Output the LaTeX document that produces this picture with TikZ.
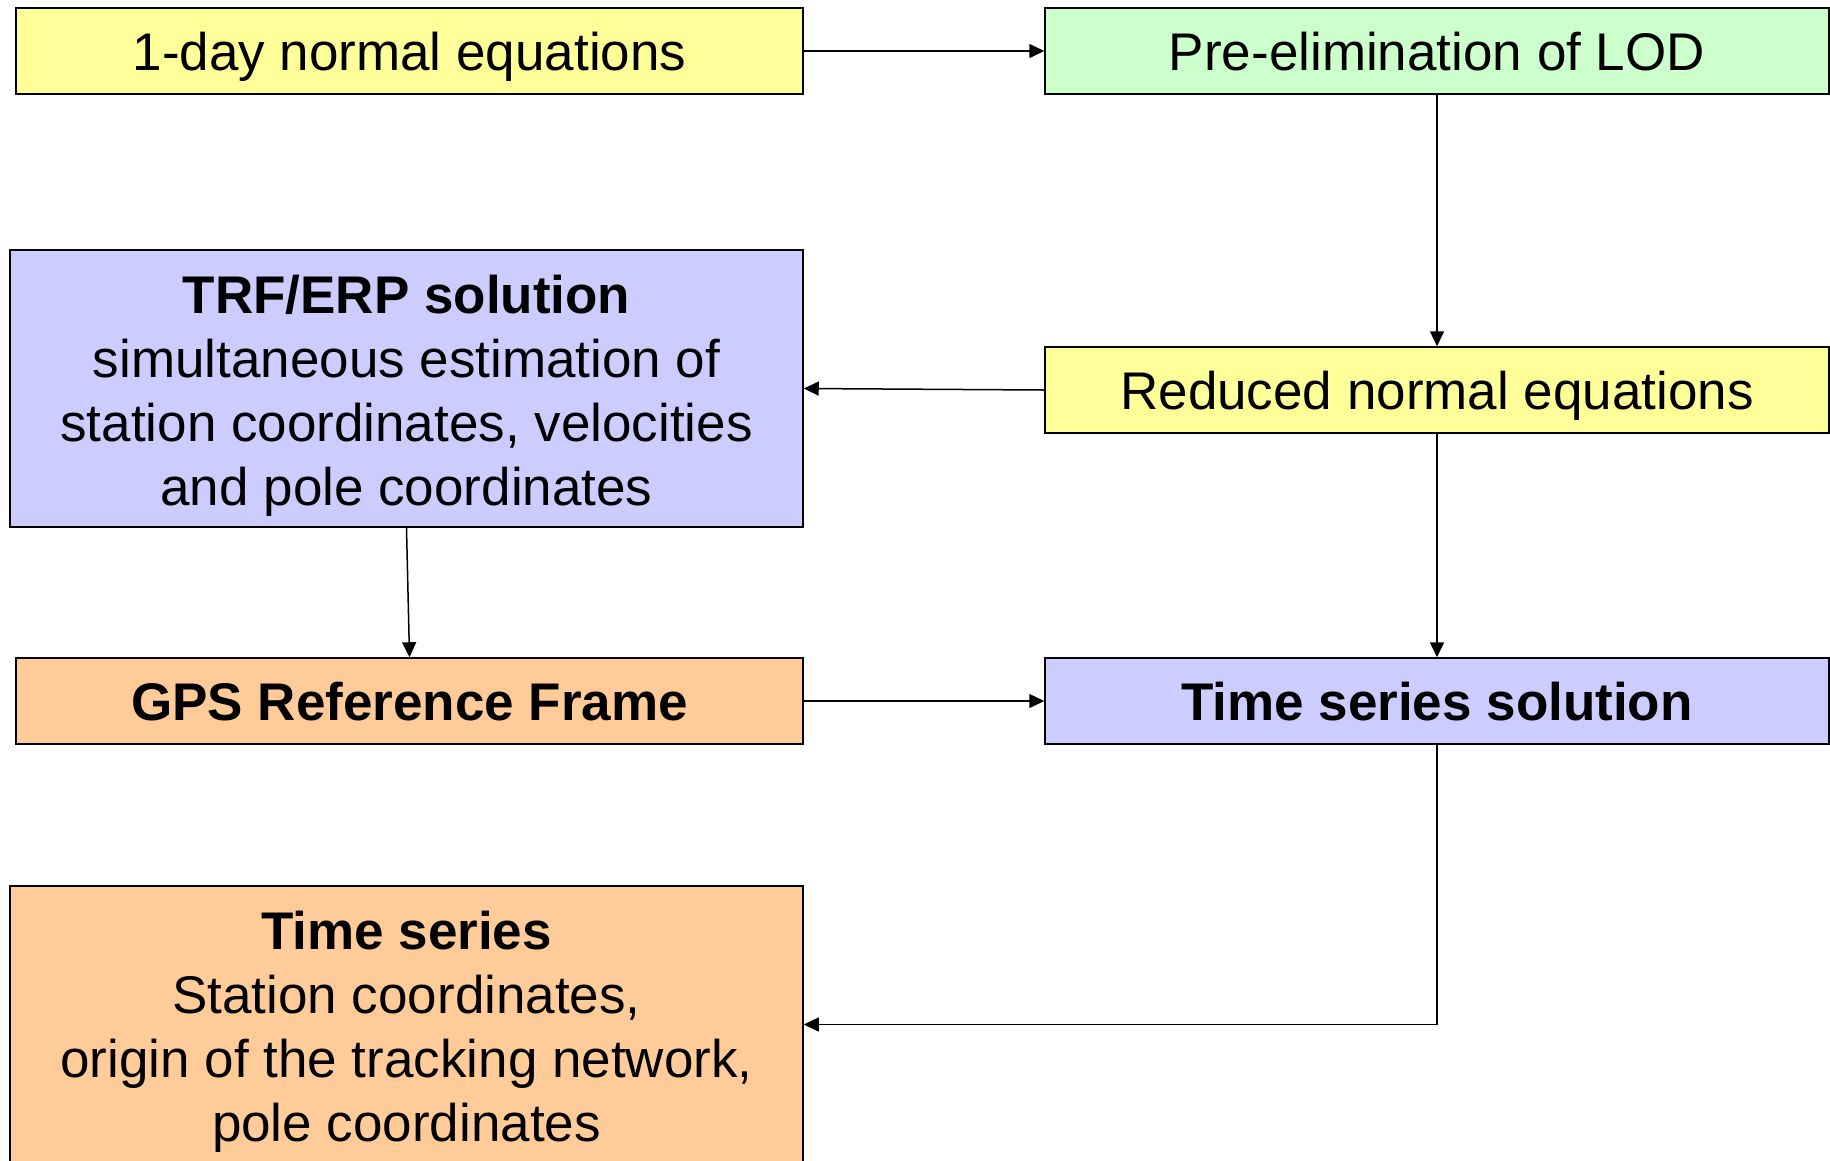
\documentclass[tikz,border=0pt]{standalone}
\usepackage{fontspec}
\setmainfont{Liberation Sans}
\usetikzlibrary{arrows.meta}
\definecolor{cyellow}{HTML}{FFFF99}
\definecolor{cgreen}{HTML}{CCFFCC}
\definecolor{cblue}{HTML}{CCCCFF}
\definecolor{corange}{HTML}{FFCC99}
\newcommand{\toppad}{\rule{0pt}{52pt}}
\tikzset{
  box/.style={draw=black, line width=1.5pt, rectangle, inner sep=0pt, align=center,
    font=\fontsize{53}{64}\selectfont, text=black},
  oneline/.style={text height=38pt, text depth=0pt},
  small/.style={box, oneline, minimum width=787pt, minimum height=86pt},
  big/.style={box, minimum width=793pt, minimum height=277pt},
  rsmall/.style={box, oneline, minimum width=784pt, minimum height=86pt},
  arr/.style={draw=black, line width=1.5pt, -{Triangle[length=15pt,width=14pt]}}
}
\begin{document}
\begin{tikzpicture}[x=1pt,y=-1pt]
\useasboundingbox (0,0) rectangle (1830,1160);
\clip (0,0) rectangle (1830,1160);
\node[small, fill=cyellow] (A) at (409.5,51) {1-day normal equations};
\node[rsmall, fill=cgreen] (B) at (1437,51) {Pre-elimination of LOD};
\node[big, fill=cblue] (C) at (406.5,388.5) {\toppad\textbf{TRF/ERP solution}\\simultaneous estimation of\\station coordinates, velocities\\and pole coordinates};
\node[rsmall, fill=cyellow] (D) at (1437,390) {Reduced normal equations};
\node[small, fill=corange] (E) at (409.5,701) {\textbf{GPS Reference Frame}};
\node[rsmall, fill=cblue] (F) at (1437,701) {\textbf{Time series solution}};
\node[big, fill=corange] (G) at (406.5,1024.5) {\toppad\textbf{Time series}\\Station coordinates,\\origin of the tracking network,\\pole coordinates};
\draw[arr] (A) -- (B);
\draw[arr] (B) -- (D);
\draw[arr] (D.west) -- (C.east);
\draw[arr] (C.south) -- (E.north);
\draw[arr] (D) -- (F);
\draw[arr] (E) -- (F);
\draw[arr] (F.south) |- (G.east);
\end{tikzpicture}
\end{document}
